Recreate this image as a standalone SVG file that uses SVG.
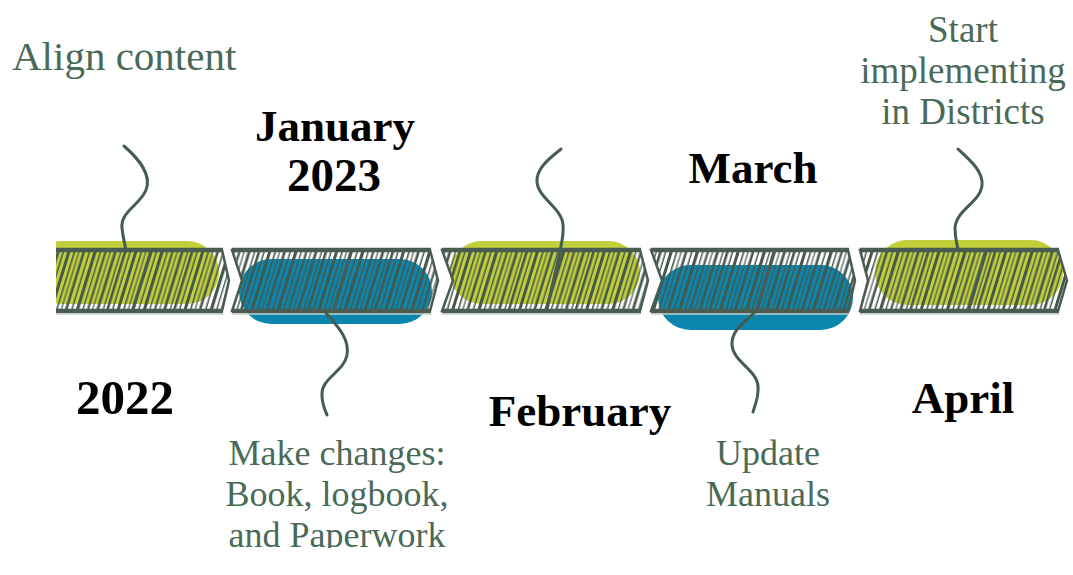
<svg xmlns="http://www.w3.org/2000/svg" width="1073" height="575" viewBox="0 0 1073 575">
<style>
.lbl{font-family:"Liberation Serif","DejaVu Serif",serif;font-weight:bold;fill:#000;text-anchor:middle}
.note{font-family:"Liberation Serif","DejaVu Serif",serif;fill:#4a6a58;text-anchor:middle}
.conn{fill:none;stroke:#435d4e;stroke-width:3;stroke-linecap:round}
.green{fill:#c2cf3b}
.blue{fill:#0b86af}
.hatch{fill:url(#hatch)}
.frame{fill:none;stroke:#4a5b50;stroke-width:2.5;stroke-linejoin:miter}
.bar{stroke:#4a5b50;stroke-width:4.5}
.div{stroke:#4a5b50;stroke-width:3.2}
.under{stroke:#c3cdc6;stroke-width:1.5}
</style>
<defs>
<pattern id="hatch" patternUnits="userSpaceOnUse" width="64" height="64" patternTransform="rotate(17)">
<g fill="#45584c">
<rect x="0" y="0" width="2.6" height="64"/>
<rect x="5.5" y="0" width="1.5" height="64"/>
<rect x="10" y="0" width="3" height="64"/>
<rect x="16" y="0" width="1.6" height="64"/>
<rect x="20.5" y="0" width="1.2" height="64"/>
<rect x="24.5" y="0" width="2.6" height="64"/>
<rect x="30.5" y="0" width="1.5" height="64"/>
<rect x="35" y="0" width="3.2" height="64"/>
<rect x="41" y="0" width="1.4" height="64"/>
<rect x="45.5" y="0" width="2.2" height="64"/>
<rect x="50.5" y="0" width="1.2" height="64"/>
<rect x="54.5" y="0" width="2.8" height="64"/>
<rect x="60.5" y="0" width="1.4" height="64"/>
</g>
</pattern>
<clipPath id="leftclip"><rect x="56" y="0" width="1017" height="575"/></clipPath>
<clipPath id="bottomclip"><rect x="0" y="0" width="1073" height="548"/></clipPath>
</defs>
<rect width="1073" height="575" fill="#fff"/>

<g id="seg-2022" clip-path="url(#leftclip)">
<rect class="green" x="30" y="241" width="189" height="63" rx="31.5"/>
<polygon class="hatch" points="56,250 222,250 229,280.5 222,311 56,311"/>
<polyline class="frame" points="222,250 229,280.5 222,311"/>
<line class="bar" x1="56" y1="250" x2="223" y2="250"/>
<line class="bar" x1="56" y1="311" x2="223" y2="311"/>
<line class="under" x1="56" y1="314" x2="223" y2="314"/>
<line class="div" x1="151" y1="252" x2="133" y2="309"/>
</g>

<g id="seg-jan">
<rect class="blue" x="239" y="259" width="193" height="65" rx="32.5"/>
<polygon class="hatch" points="232,250 430,250 438,280.5 430,311 232,311 242,280.5"/>
<polygon class="frame" points="232,250 430,250 438,280.5 430,311 232,311 242,280.5"/>
<line class="bar" x1="232" y1="250" x2="431" y2="250"/>
<line class="bar" x1="232" y1="311" x2="431" y2="311"/>
<line class="under" x1="232" y1="314" x2="431" y2="314"/>
<line class="div" x1="351" y1="252" x2="334" y2="309"/>
</g>

<g id="seg-feb">
<rect class="green" x="450" y="241" width="190" height="63" rx="31.5"/>
<polygon class="hatch" points="442,250 640,250 648,280.5 640,311 442,311 453,280.5"/>
<polygon class="frame" points="442,250 640,250 648,280.5 640,311 442,311 453,280.5"/>
<line class="bar" x1="442" y1="250" x2="641" y2="250"/>
<line class="bar" x1="442" y1="311" x2="641" y2="311"/>
<line class="under" x1="442" y1="314" x2="641" y2="314"/>
<line class="div" x1="560" y1="252" x2="547" y2="309"/>
</g>

<g id="seg-mar">
<rect class="blue" x="658" y="265" width="195" height="65" rx="32.5"/>
<polygon class="hatch" points="651,250 848,250 855,280.5 848,311 651,311 662,280.5"/>
<polygon class="frame" points="651,250 848,250 855,280.5 848,311 651,311 662,280.5"/>
<line class="bar" x1="651" y1="250" x2="849" y2="250"/>
<line class="bar" x1="651" y1="311" x2="849" y2="311"/>
<line class="under" x1="651" y1="314" x2="849" y2="314"/>
<line class="div" x1="774" y1="252" x2="757" y2="309"/>
</g>

<g id="seg-apr">
<rect class="green" x="875" y="240" width="188" height="65" rx="32.5"/>
<polygon class="hatch" points="860,250 1058,250 1067,280.5 1058,311 860,311 868,280.5"/>
<polygon class="frame" points="860,250 1058,250 1067,280.5 1058,311 860,311 868,280.5"/>
<line class="bar" x1="860" y1="250" x2="1059" y2="250"/>
<line class="bar" x1="860" y1="311" x2="1059" y2="311"/>
<line class="under" x1="860" y1="314" x2="1059" y2="314"/>
<line class="div" x1="986" y1="252" x2="969" y2="309"/>
</g>

<g id="connectors">
<path class="conn" d="M124,146 C140,160 152,175 146,190 C140,205 120,212 122,228 C123,238 125,244 126,251"/>
<path class="conn" d="M326,313 C336,325 350,338 347,355 C344,372 321,378 322,395 C322,404 325,410 327,415"/>
<path class="conn" d="M561,149 C550,158 536,168 537,182 C538,198 562,208 563,225 C564,236 561,244 560,252"/>
<path class="conn" d="M755,312 C745,322 731,330 732,345 C733,362 757,370 758,386 C759,397 755,405 753,412"/>
<path class="conn" d="M958,149 C970,160 984,172 982,186 C980,202 956,210 955,228 C955,238 957,244 958,250"/>
</g>

<g id="labels">
<text class="lbl" x="335" y="141" font-size="45">January</text>
<text class="lbl" x="334" y="191" font-size="47">2023</text>
<text class="lbl" x="125" y="414" font-size="49">2022</text>
<text class="lbl" x="580" y="426" font-size="45">February</text>
<text class="lbl" x="753" y="183" font-size="45">March</text>
<text class="lbl" x="963" y="413" font-size="45">April</text>
</g>

<g id="notes">
<text class="note" x="12" y="70" font-size="41" style="text-anchor:start">Align content</text>
<text class="note" x="963" y="42" font-size="37">Start</text>
<text class="note" x="963" y="83" font-size="37">implementing</text>
<text class="note" x="963" y="124" font-size="37">in Districts</text>
<g clip-path="url(#bottomclip)">
<text class="note" x="337" y="465" font-size="36">Make changes:</text>
<text class="note" x="337" y="506" font-size="36">Book, logbook,</text>
<text class="note" x="337" y="547" font-size="36">and Paperwork</text>
</g>
<text class="note" x="768" y="465" font-size="36">Update</text>
<text class="note" x="768" y="506" font-size="36">Manuals</text>
</g>
</svg>
